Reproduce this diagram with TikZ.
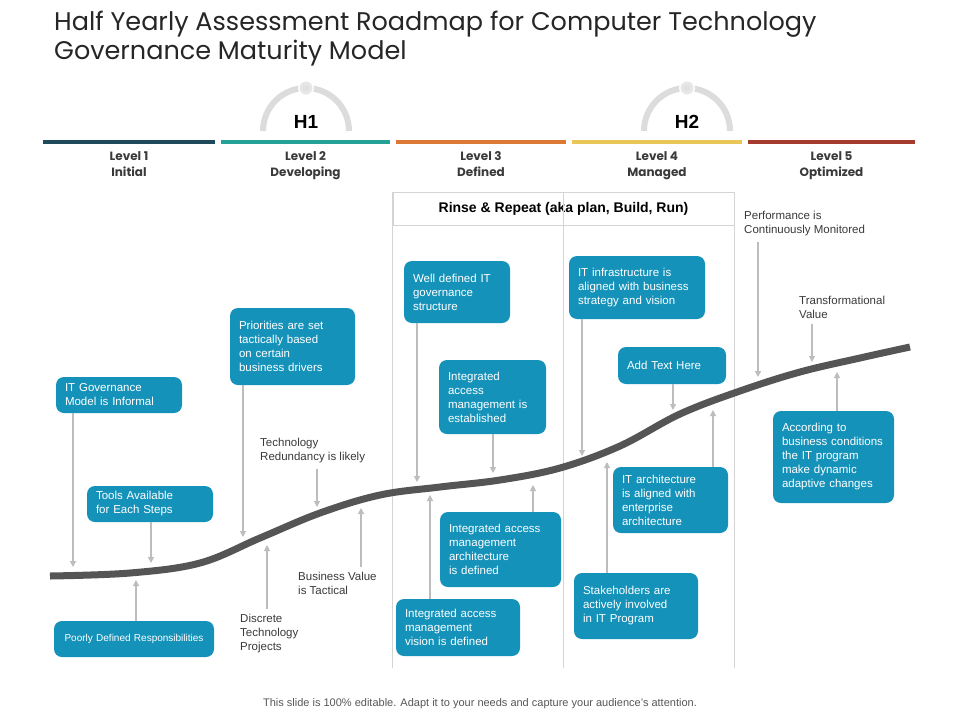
\documentclass[tikz,border=0pt]{standalone}
\usepackage{fontspec}
\setmainfont{Liberation Sans}
\newfontfamily\gothic{Poppins}
\usetikzlibrary{arrows.meta}
\definecolor{boxblue}{HTML}{1592B9}
\definecolor{lvla}{HTML}{1E4A5C}
\definecolor{lvlb}{HTML}{25A195}
\definecolor{lvlc}{HTML}{DC7A35}
\definecolor{lvld}{HTML}{E8C756}
\definecolor{lvle}{HTML}{A53B2C}
\definecolor{arrgray}{HTML}{BDBDBD}
\definecolor{rulegray}{HTML}{D4D4D4}
\definecolor{arcgray}{HTML}{DCDCDC}
\definecolor{curvegray}{HTML}{555555}
\definecolor{ink}{HTML}{3A3A3A}

\begin{document}
\begin{tikzpicture}[x=1pt,y=-1pt,
  box/.style={fill=boxblue,text=white,rounded corners=8pt,align=left,inner xsep=9pt,font=\fontsize{11.5}{14}\selectfont},
  note/.style={text=ink,align=left,inner xsep=0pt,inner ysep=5pt,anchor=west,font=\fontsize{11.5}{14}\selectfont},
  level/.style={text=ink,align=center,anchor=north,inner sep=0pt,font=\gothic\bfseries\fontsize{12}{16}\selectfont},
  hlabel/.style={font=\bfseries\fontsize{19}{19}\selectfont},
  arr/.style={draw=arrgray,line width=1.2pt,-{Triangle[length=6pt,width=6pt]}}]
\path[fill=white,use as bounding box] (0,0) rectangle (960,720);

\node[anchor=north west,align=left,inner sep=0pt,text=black!85,font=\gothic\fontsize{25.5}{28.5}\selectfont] (title) at (54,11)
  {Half Yearly Assessment Roadmap for Computer Technology\\Governance Maturity Model};

\foreach \x/\e/\c/\n/\t in {43/215/lvla/1/Initial,221/390/lvlb/2/Developing,396/566/lvlc/3/Defined,572/742/lvld/4/Managed,748/915/lvle/5/Optimized}{
  \draw[\c,line width=4pt] (\x,142) -- (\e,142);
  \node[level] (lv\n) at ({(\x+\e)/2},149) {Level \n\strut\\\t\strut};
}

\foreach \h/\x in {1/306,2/687}{
  \draw[arcgray,line width=6pt] (\x-43,131) arc (180:360:43);
  \fill[white] (\x,88) circle (8pt);
  \fill[arcgray!70] (\x,88) circle (6.5pt);
  \fill[arcgray!70!black!30] (\x,88) circle (3.5pt);
  \node[hlabel] (h\h) at (\x,122) {H\h};
}

\node[draw=rulegray,line width=0.8pt,minimum width=341pt,minimum height=33pt,font=\bfseries\fontsize{14}{16}\selectfont] (rinse) at (563.5,208.5)
  {Rinse \& Repeat (aka plan, Build, Run)};
\coordinate (tblend) at (0,668);
\draw[rulegray,line width=0.8pt] (rinse.north west) -- (rinse.north west |- tblend)
  (rinse.north) -- (rinse.north |- tblend)
  (rinse.north east) -- (rinse.north east |- tblend);

\draw[curvegray,line width=7pt] plot[smooth,tension=0.6] coordinates {(50,576) (130,573) (200,563) (260,538) (320,513) (380,495) (440,487) (500,480) (560,468) (620,446) (680,414) (740,391) (800,372) (860,358) (910,347)};

\node[box,text width=108pt,minimum height=36pt] (gov) at (119,395) {IT Governance\\Model is Informal};
\node[box,text width=108pt,minimum height=36pt] (tools) at (150,504) {Tools Available\\for Each Steps};
\node[box,text width=142pt,minimum height=36pt,align=center,font=\fontsize{10}{12}\selectfont] (poor) at (134,639) {Poorly Defined Responsibilities};
\node[box,text width=107pt,minimum height=77pt] (prior) at (292.5,346.5) {Priorities are set\\tactically based\\on certain\\business drivers};
\node[box,text width=88pt,minimum height=62pt] (well) at (457,292) {Well defined IT\\governance\\structure};
\node[box,text width=89pt,minimum height=74pt] (estab) at (492.5,397) {Integrated\\access\\management is\\established};
\node[box,text width=103pt,minimum height=75pt] (arch) at (500.5,549.5) {Integrated access\\management\\architecture\\is defined};
\node[box,text width=106pt,minimum height=57pt] (vision) at (458,627.5) {Integrated access\\management\\vision is defined};
\node[box,text width=118pt,minimum height=63pt] (infra) at (637,287.5) {IT infrastructure is\\aligned with business\\strategy and vision};
\node[box,text width=90pt,minimum height=37pt] (addtext) at (672,365.5) {Add Text Here};
\node[box,text width=97pt,minimum height=66pt] (itarch) at (670.5,500) {IT architecture\\is aligned with\\enterprise\\architecture};
\node[box,text width=106pt,minimum height=66pt] (stake) at (636,606) {Stakeholders are\\actively involved\\in IT Program};
\node[box,text width=103pt,minimum height=92pt] (accord) at (833.5,457) {According to\\business conditions\\the IT program\\make dynamic\\adaptive changes};

\node[note] (redund) at (260,451) {Technology\\Redundancy is likely};
\node[note] (bval) at (298,583.5) {Business Value\\is Tactical};
\node[note] (discr) at (240,634) {Discrete\\Technology\\Projects};
\node[note] (perf) at (744,224) {Performance is\\Continuously Monitored};
\node[note] (transf) at (799,307.5) {Transformational\\Value};

\foreach \b/\x/\y in {gov/73/567,tools/151/563,prior/243/537,redund/317/507,well/417/482,estab/493/473,infra/582/456,addtext/673/410,perf/758/377,transf/812/362}{
  \coordinate (t\b) at (\x,\y);
  \draw[arr] (\b.south -| t\b) -- (t\b);
}
\foreach \b/\x/\y in {poor/136/580,discr/267/545,bval/361/508,vision/430/495,arch/533/485,stake/607/462,itarch/713/410,accord/837/372}{
  \coordinate (t\b) at (\x,\y);
  \draw[arr] (\b.north -| t\b) -- (t\b);
}

\node[text=ink!85,font=\fontsize{11}{13}\selectfont] (foot) at (480,704) {This slide is 100\% editable. Adapt it to your needs and capture your audience's attention.};
\end{tikzpicture}
\end{document}
